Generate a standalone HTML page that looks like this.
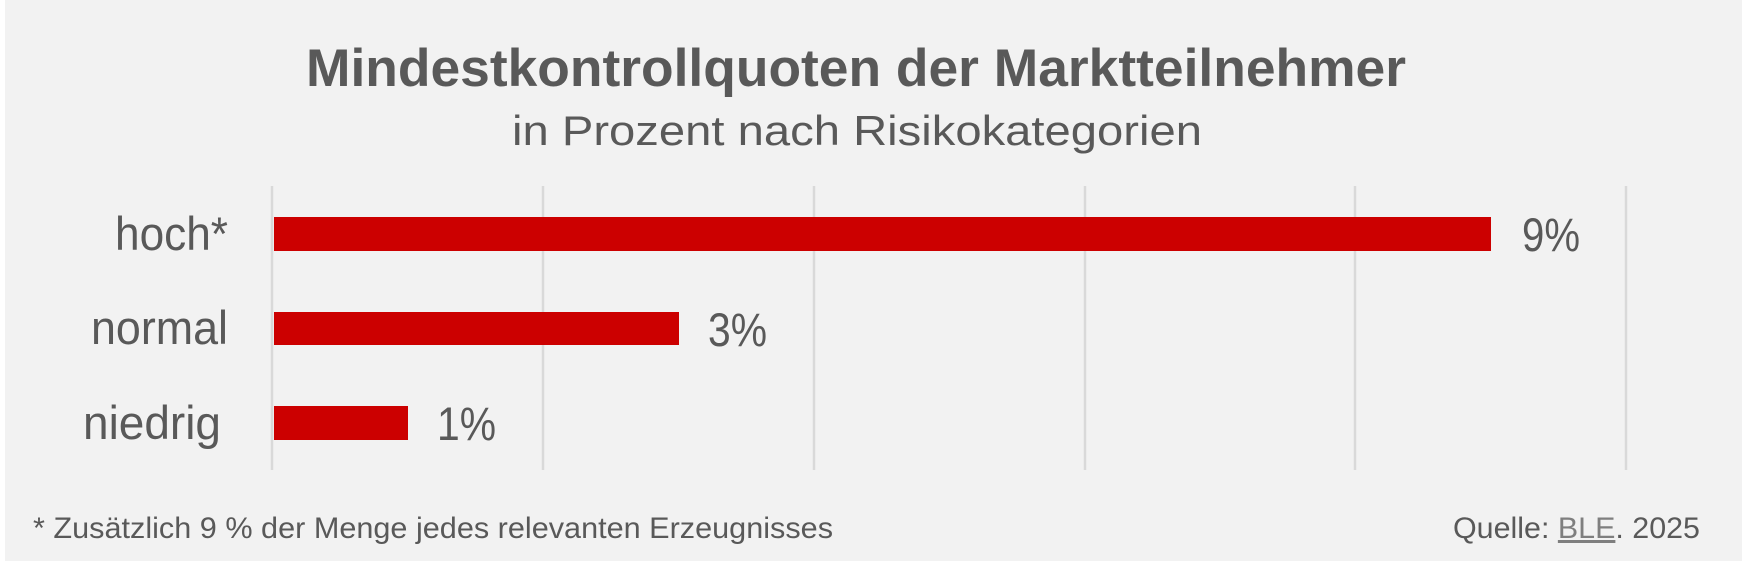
<!DOCTYPE html>
<html><head><meta charset="utf-8"><style>
html,body{margin:0;padding:0;background:#fff;}
svg{display:block;}
text{font-family:"Liberation Sans",sans-serif;fill:#595959;}
</style></head><body>
<svg width="1746" height="566" viewBox="0 0 1746 566">
<rect x="5" y="0" width="1737" height="561" fill="#f2f2f2"/>
<text x="856" y="86" font-size="53" font-weight="bold" text-anchor="middle" textLength="1100" lengthAdjust="spacingAndGlyphs">Mindestkontrollquoten der Marktteilnehmer</text>
<text x="857" y="145" font-size="42" text-anchor="middle" textLength="690" lengthAdjust="spacingAndGlyphs">in Prozent nach Risikokategorien</text>
<g stroke="#d9d9d9" stroke-width="2.5">
<line x1="272" y1="186" x2="272" y2="470"/>
<line x1="543" y1="186" x2="543" y2="470"/>
<line x1="814" y1="186" x2="814" y2="470"/>
<line x1="1085" y1="186" x2="1085" y2="470"/>
<line x1="1355" y1="186" x2="1355" y2="470"/>
<line x1="1626" y1="186" x2="1626" y2="470"/>
</g>
<rect x="274" y="217" width="1217" height="34" fill="#cc0000"/>
<rect x="274" y="312" width="405" height="33" fill="#cc0000"/>
<rect x="274" y="406" width="134" height="34" fill="#cc0000"/>
<text x="228" y="250" font-size="47" text-anchor="end" textLength="113" lengthAdjust="spacingAndGlyphs">hoch*</text>
<text x="228" y="344" font-size="47" text-anchor="end" textLength="137" lengthAdjust="spacingAndGlyphs">normal</text>
<text x="221" y="439" font-size="47" text-anchor="end" textLength="138" lengthAdjust="spacingAndGlyphs">niedrig</text>
<text x="1522" y="251" font-size="47" textLength="58" lengthAdjust="spacingAndGlyphs">9%</text>
<text x="708" y="346" font-size="47" textLength="59" lengthAdjust="spacingAndGlyphs">3%</text>
<text x="437" y="440" font-size="47" textLength="59" lengthAdjust="spacingAndGlyphs">1%</text>
<text x="33" y="538" font-size="30" textLength="800" lengthAdjust="spacingAndGlyphs">* Zusätzlich 9 % der Menge jedes relevanten Erzeugnisses</text>
<text x="1453" y="538" font-size="30" textLength="247" lengthAdjust="spacingAndGlyphs">Quelle: <tspan text-decoration="underline" fill="#7f7f7f">BLE</tspan>. 2025</text>
</svg>
</body></html>
